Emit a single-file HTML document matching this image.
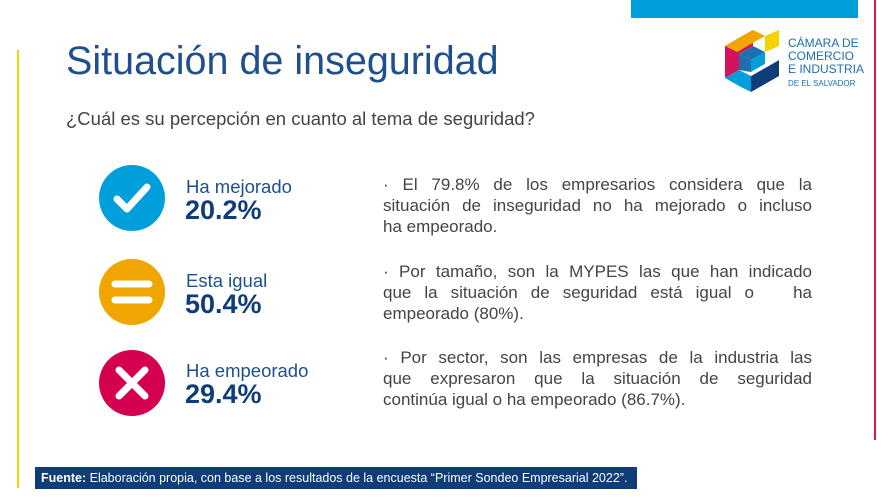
<!DOCTYPE html>
<html><head><meta charset="utf-8"><style>
body{margin:0;width:895px;height:503px;background:#fff;position:relative;overflow:hidden;font-family:"Liberation Sans",sans-serif;}
.a{position:absolute;white-space:nowrap;}
.lbl{color:#1e4f8f;font-size:18.5px;}
.pct{color:#0f3d7a;font-size:27px;font-weight:bold;}
.txt{color:#444;font-size:17px;line-height:21px;width:429px;}
.txt div{text-align:justify;text-align-last:justify;white-space:nowrap;height:21px;}
.txt div.l{text-align-last:left;}
</style></head><body>
<div class="a" style="left:631px;top:0;width:227px;height:18px;background:#009fdb"></div>
<div class="a" style="left:874px;top:0;width:2px;height:440px;background:#d4145a"></div>
<div class="a" style="left:17px;top:50px;width:2px;height:438px;background:#f5d300"></div>
<div class="a" style="left:66px;top:39px;font-size:39.5px;color:#1e4f8f">Situación de inseguridad</div>
<div class="a" style="left:66px;top:108px;font-size:18.5px;color:#444">¿Cuál es su percepción en cuanto al tema de seguridad?</div>
<svg class="a" style="left:725px;top:30px" width="56" height="64" viewBox="0 0 56 64">
<polygon points="0,16 28,0 28,16 14,24 14,40 0,48" fill="#d4145a"/>
<polygon points="0,16 28,0 40,6 12,22" fill="#f0a500"/>
<polygon points="40,6 54,0 54,16 40,22" fill="#f5d300"/>
<polygon points="14,24 28,16 40,22 26,30" fill="#1e6fb0"/>
<polygon points="14,24 26,30 26,42 14,40" fill="#1e6fb0"/>
<polygon points="26,30 40,22 40,34 26,42" fill="#009fdb"/>
<polygon points="14,40 26,46 26,62 14,56 0,48" fill="#009fdb"/>
<polygon points="26,46 54,30 54,46 26,62" fill="#0f3d7a"/>
<polygon points="26,42 40,34 54,30 26,46" fill="#fff"/>
</svg>
<div class="a" style="left:788px;top:37px;color:#1e6fb0;font-size:12px;line-height:13px">CÁMARA DE<br>COMERCIO<br>E INDUSTRIA<br><span style="font-size:8px">DE EL SALVADOR</span></div>

<svg class="a" style="left:99px;top:165px" width="66" height="66"><circle cx="33" cy="33" r="33" fill="#009fdb"/><polyline points="18,34 28,44 48,22" fill="none" stroke="#fff" stroke-width="7" stroke-linecap="round" stroke-linejoin="round"/></svg>
<svg class="a" style="left:99px;top:259px" width="66" height="66"><circle cx="33" cy="33" r="33" fill="#f0a500"/><line x1="16" y1="25" x2="50" y2="25" stroke="#fff" stroke-width="7" stroke-linecap="round"/><line x1="16" y1="41" x2="50" y2="41" stroke="#fff" stroke-width="7" stroke-linecap="round"/></svg>
<svg class="a" style="left:99px;top:350px" width="66" height="66"><circle cx="33" cy="33" r="33" fill="#d4004f"/><line x1="20" y1="20" x2="46" y2="46" stroke="#fff" stroke-width="7" stroke-linecap="round"/><line x1="46" y1="20" x2="20" y2="46" stroke="#fff" stroke-width="7" stroke-linecap="round"/></svg>

<div class="a lbl" style="left:186px;top:176px">Ha mejorado</div>
<div class="a pct" style="left:185px;top:195px">20.2%</div>
<div class="a lbl" style="left:186px;top:270px">Esta igual</div>
<div class="a pct" style="left:185px;top:289px">50.4%</div>
<div class="a lbl" style="left:186px;top:360px">Ha empeorado</div>
<div class="a pct" style="left:185px;top:379px">29.4%</div>

<div class="a txt" style="left:383px;top:174px"><div>· El 79.8% de los empresarios considera que la</div><div>situación de inseguridad no ha mejorado o incluso</div><div class="l">ha empeorado.</div></div>
<div class="a txt" style="left:383px;top:261px"><div>· Por tamaño, son la MYPES las que han indicado</div><div>que la situación de seguridad está igual o&nbsp;&nbsp; ha</div><div class="l">empeorado (80%).</div></div>
<div class="a txt" style="left:383px;top:347px"><div>· Por sector, son las empresas de la industria las</div><div>que expresaron que la situación de seguridad</div><div class="l">continúa igual o ha empeorado (86.7%).</div></div>

<div class="a" style="left:35px;top:467px;width:602px;height:22px;background:#0f3d7a"></div>
<div class="a" style="left:41px;top:471px;color:#fff;font-size:12.5px"><b>Fuente:</b> Elaboración propia, con base a los resultados de la encuesta “Primer Sondeo Empresarial 2022”.</div>
</body></html>
